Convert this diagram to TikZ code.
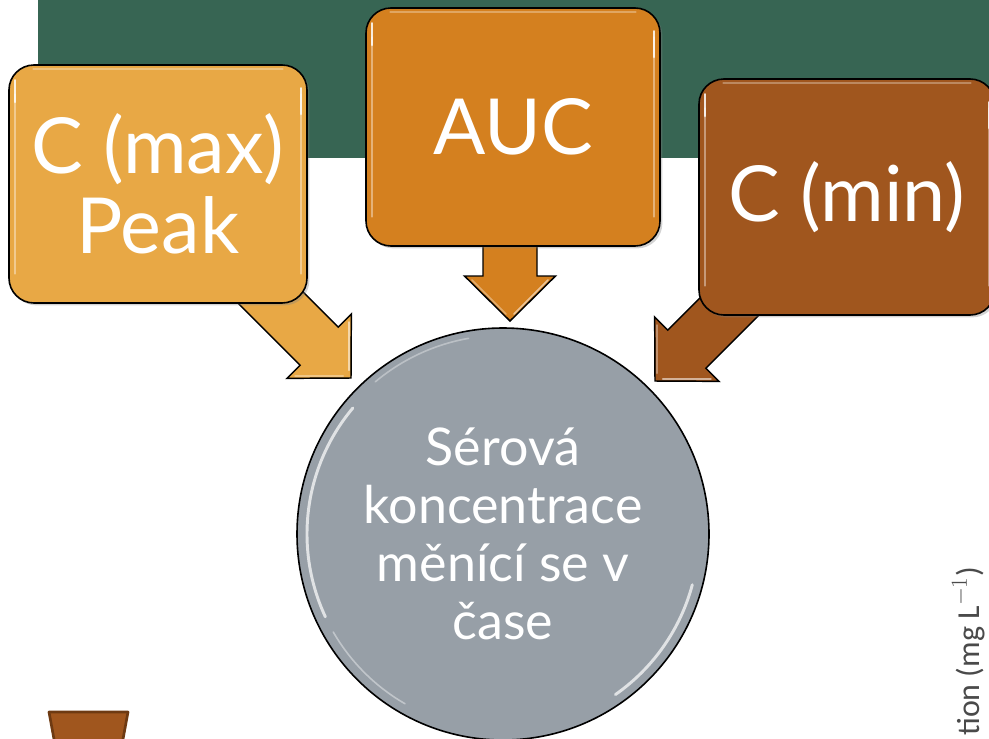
\documentclass[tikz,border=0pt]{standalone}
\usepackage{fontspec}
\setmainfont{Lato}
\newfontfamily\axisfont{Carlito}
\usetikzlibrary{shadows,calc}
\definecolor{band}{HTML}{376553}
\definecolor{maxc}{HTML}{E8A845}
\definecolor{aucc}{HTML}{D4801F}
\definecolor{minc}{HTML}{A0561E}
\definecolor{mindark}{HTML}{6E3A12}
\definecolor{circ}{HTML}{979FA7}
\definecolor{axisgray}{HTML}{4A4A4A}
\tikzset{
  box/.style={draw=black, line width=1.2pt, rounded corners=18.75pt,
    text=white, align=center, inner sep=0pt,
    font=\fontsize{58}{60}\selectfont,
    drop shadow={shadow xshift=1.8pt, shadow yshift=-1.8pt, opacity=.35}},
  gloss/.style={white, line width=1.3pt, opacity=.4, line cap=round},
  glint/.style={white, line width=1.6pt, opacity=.85, line cap=round},
  arrowline/.style={draw=black, line width=1.1pt, line join=miter},
  pics/blockarrow/.style 2 args={code={
    \path[arrowline, fill=#1] (0,0) -- (-45,45.5) -- (-45,27) -- (-#2,27)
      -- (-#2,-27) -- (-45,-27) -- (-45,-45.5) -- cycle;
    \draw[gloss, opacity=.55] (-41,-38) -- (-7,-4);
    \draw[gloss, opacity=.35] (-41,38) -- (-7,4);
  }}
}
\begin{document}
\begin{tikzpicture}[x=0.75pt, y=-0.75pt]
  \useasboundingbox (0,0) rectangle (989,739);
  \clip (0,0) rectangle (989,739);

  % title band
  \fill[band] (38,-5) rectangle (995,158);

  % arrow tips and block arrows (drawn beneath the boxes)
  \coordinate (tipL) at (351,378);
  \coordinate (tipM) at (510,321);
  \coordinate (tipR) at (655,381);
  \pic[rotate=-45]  at (tipL) {blockarrow={maxc}{150}};
  \pic[rotate=-90]  at (tipM) {blockarrow={aucc}{120}};
  \pic[rotate=-135] at (tipR) {blockarrow={minc}{150}};

  % the three parameter boxes
  \node[box, fill=maxc, minimum width=223.5pt, minimum height=178.5pt]
    (cmax) at (158,184) {C (max)\\Peak};
  \node[box, fill=aucc, minimum width=220.5pt, minimum height=178.5pt]
    (auc) at (513,127) {AUC};
  \node[box, fill=minc, minimum width=222pt, minimum height=177pt]
    (cmin) at (847,197) {C (min)};

  % glossy edge highlights
  \foreach \b in {cmax,auc,cmin}{
    \draw[gloss] ($(\b.north west)+(7,30)$) -- ($(\b.south west)+(7,-30)$);
    \draw[gloss] ($(\b.north east)+(-7,30)$) -- ($(\b.south east)+(-7,-30)$);
    \draw[glint] ($(\b.north west)+(7,16)$) -- ($(\b.north west)+(7,38)$);
    \draw[glint] ($(\b.north east)+(-7,24)$) -- ($(\b.north east)+(-7,50)$);
    \draw[gloss, opacity=.3] ($(\b.north west)+(25,5)$) -- ($(\b.north east)+(-25,5)$);
  }

  % central circle
  \node[circle, draw=black, line width=1.2pt, fill=circ, minimum size=309pt,
        inner sep=0pt, text=white, align=center,
        font=\fontsize{39}{43.5}\selectfont] (serum) at (503,534)
        {Sérová\\koncentrace\\měnící se v\\čase};
  \begin{scope}[shift={(serum.center)}]
    \draw[white, line width=2.2pt, opacity=.7, line cap=round]
      (140:147pt) arc[start angle=140, end angle=205, radius=147pt];
    \draw[white, line width=1.2pt, opacity=.4, line cap=round]
      (210:147pt) arc[start angle=210, end angle=240, radius=147pt];
    \draw[white, line width=2.2pt, opacity=.7, line cap=round]
      (-15:147pt) arc[start angle=-15, end angle=-55, radius=147pt];
    \draw[white, line width=1.2pt, opacity=.35, line cap=round]
      (100:149pt) arc[start angle=100, end angle=130, radius=149pt];
  \end{scope}

  % partial shape at lower left
  \path[draw=mindark, line width=2pt, fill=minc, line join=round]
    (49,712) -- (128,712) -- (121,750) -- (56,750) -- cycle;

  % axis caption at the right edge
  \node[rotate=90, anchor=base west, inner sep=0pt, text=axisgray,
        font=\axisfont\fontsize{24}{28}\selectfont] (axis) at (979,736)
        {tion (mg L$^{-1}$)};
\end{tikzpicture}
\end{document}
